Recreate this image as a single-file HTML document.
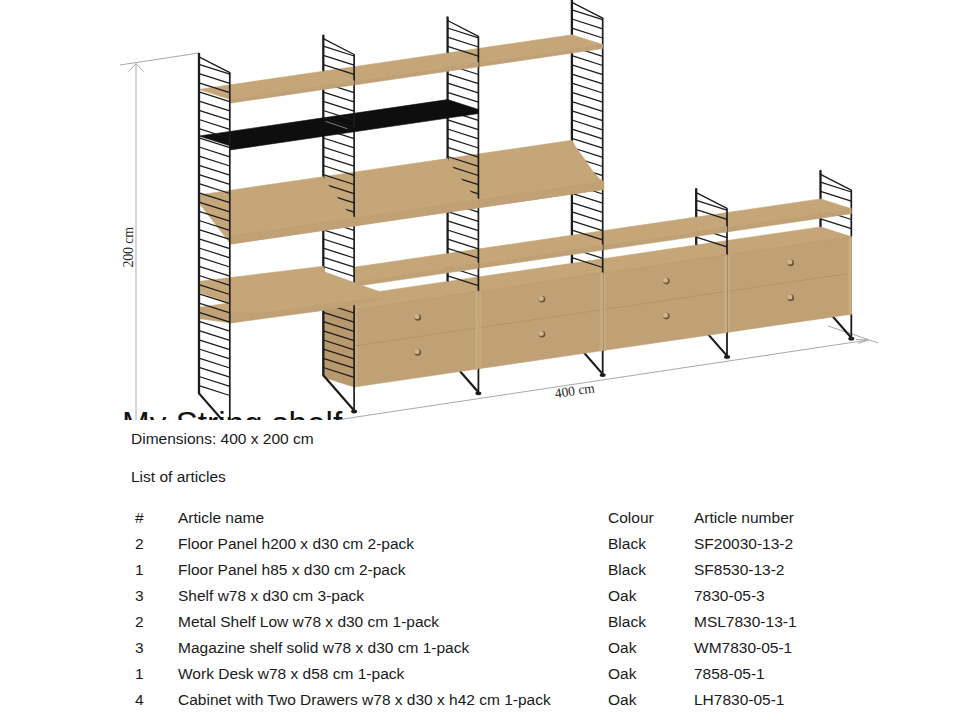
<!DOCTYPE html>
<html><head><meta charset="utf-8">
<style>
html,body{margin:0;padding:0;background:#fff;width:960px;height:720px;overflow:hidden;}
body{position:relative;font-family:"Liberation Sans",sans-serif;color:#1a1a1a;}
.t{position:absolute;font-size:15.5px;line-height:18px;white-space:nowrap;}
#title{position:absolute;left:122px;top:404px;font-size:33.3px;line-height:40px;color:#111;}
#cover{position:absolute;left:0;top:420px;width:960px;height:300px;background:#fff;}
svg{position:absolute;left:0;top:0;}
</style></head><body>
<svg width="960" height="421" viewBox="0 0 960 421">
<line x1="120.0" y1="65.0" x2="199.0" y2="53.0" stroke="#a9a9a9" stroke-width="1"/>
<line x1="136.0" y1="63.5" x2="136.0" y2="421.0" stroke="#a9a9a9" stroke-width="1"/>
<line x1="128.5" y1="71.5" x2="136.0" y2="63.5" stroke="#a9a9a9" stroke-width="1"/>
<line x1="136.0" y1="63.5" x2="143.5" y2="71.5" stroke="#a9a9a9" stroke-width="1"/>
<line x1="250.0" y1="433.0" x2="868.2" y2="340.0" stroke="#a9a9a9" stroke-width="1"/>
<line x1="828.0" y1="326.0" x2="878.0" y2="342.8" stroke="#a9a9a9" stroke-width="1"/>
<line x1="856.0" y1="339.5" x2="868.2" y2="340.0" stroke="#a9a9a9" stroke-width="1"/>
<line x1="858.0" y1="343.5" x2="868.2" y2="340.0" stroke="#a9a9a9" stroke-width="1"/>
<text x="0" y="0" transform="translate(133.4,267.5) rotate(-90)" font-family="Liberation Serif" font-size="14" letter-spacing="-0.2" fill="#2a2a2a">200 cm</text>
<text x="0" y="0" transform="translate(555.5,398) rotate(-8.3)" font-family="Liberation Serif" font-size="13.5" fill="#2a2a2a">400 cm</text>
<line x1="820.5" y1="171.0" x2="820.5" y2="302.4" stroke="#1c1c1c" stroke-width="2.3" stroke-linecap="round"/>
<line x1="851.3" y1="190.2" x2="851.3" y2="236.7" stroke="#1c1c1c" stroke-width="1.7"/>
<line x1="851.3" y1="236.7" x2="851.3" y2="313.7" stroke="#4a4036" stroke-width="0.9"/>
<line x1="851.3" y1="313.7" x2="851.3" y2="338.7" stroke="#1c1c1c" stroke-width="1.8"/>
<line x1="820.5" y1="174.4" x2="851.3" y2="190.2" stroke="#1c1c1c" stroke-width="1.3" stroke-linecap="round"/>
<line x1="820.5" y1="182.2" x2="851.3" y2="192.0" stroke="#1c1c1c" stroke-width="1.25"/>
<line x1="820.5" y1="191.4" x2="851.3" y2="201.2" stroke="#1c1c1c" stroke-width="1.25"/>
<line x1="820.5" y1="200.6" x2="851.3" y2="210.4" stroke="#1c1c1c" stroke-width="1.25"/>
<line x1="820.5" y1="209.7" x2="851.3" y2="219.5" stroke="#1c1c1c" stroke-width="1.25"/>
<line x1="820.5" y1="218.9" x2="851.3" y2="228.7" stroke="#1c1c1c" stroke-width="1.25"/>
<line x1="820.5" y1="228.1" x2="851.3" y2="237.9" stroke="#1c1c1c" stroke-width="1.25"/>
<line x1="820.5" y1="237.3" x2="851.3" y2="247.1" stroke="#1c1c1c" stroke-width="1.25"/>
<line x1="820.5" y1="246.5" x2="851.3" y2="256.3" stroke="#1c1c1c" stroke-width="1.25"/>
<line x1="820.5" y1="255.6" x2="851.3" y2="265.4" stroke="#1c1c1c" stroke-width="1.25"/>
<line x1="820.5" y1="264.8" x2="851.3" y2="274.6" stroke="#1c1c1c" stroke-width="1.25"/>
<line x1="820.5" y1="274.0" x2="851.3" y2="283.8" stroke="#1c1c1c" stroke-width="1.25"/>
<line x1="820.5" y1="283.2" x2="851.3" y2="293.0" stroke="#1c1c1c" stroke-width="1.25"/>
<line x1="820.5" y1="292.4" x2="851.3" y2="302.2" stroke="#1c1c1c" stroke-width="1.25"/>
<line x1="820.5" y1="302.4" x2="851.3" y2="337.7" stroke="#1c1c1c" stroke-width="2.2"/>
<ellipse cx="851.3" cy="338.7" rx="3.0" ry="1.9" fill="#1c1c1c"/>
<polygon points="696.2,322.6 727.0,332.4 727.0,254.9 696.2,245.1" fill="#b7996d" stroke="#b7996d" stroke-width="0.6" stroke-linejoin="round"/>
<polygon points="696.2,245.1 820.5,226.9 851.3,236.7 727.0,254.9" fill="#c4a679" stroke="#c4a679" stroke-width="0.6" stroke-linejoin="round"/>
<polygon points="727.0,332.4 851.3,314.2 851.3,236.7 727.0,254.9" fill="#bfa175" stroke="#bfa175" stroke-width="0.6" stroke-linejoin="round"/>
<polygon points="727.0,332.4 729.5,332.0 729.5,254.5 727.0,254.9" fill="#c8ac81" stroke="#c8ac81" stroke-width="0.6" stroke-linejoin="round"/>
<polygon points="848.8,314.6 851.3,314.2 851.3,236.7 848.8,237.1" fill="#c8ac81" stroke="#c8ac81" stroke-width="0.6" stroke-linejoin="round"/>
<line x1="727.3" y1="332.4" x2="727.3" y2="254.9" stroke="#9c8160" stroke-width="0.6" stroke-opacity="0.8"/>
<line x1="729.3" y1="291.1" x2="849.0" y2="273.5" stroke="#a88a60" stroke-width="0.8" stroke-opacity="0.7"/>
<line x1="727.0" y1="254.9" x2="851.3" y2="236.7" stroke="#b39670" stroke-width="0.6" stroke-opacity="0.6"/>
<circle cx="790.7" cy="262.9" r="3.3" fill="#6f5637"/>
<circle cx="789.8" cy="262.0" r="2.5" fill="#cfb58e"/>
<circle cx="790.7" cy="297.9" r="3.3" fill="#6f5637"/>
<circle cx="789.8" cy="297.0" r="2.5" fill="#cfb58e"/>
<polygon points="696.2,217.1 820.5,198.9 851.3,208.7 727.0,226.9" fill="#c4a679" stroke="#c4a679" stroke-width="0.6" stroke-linejoin="round"/>
<polygon points="727.0,226.9 851.3,208.7 851.3,213.7 727.0,231.9" fill="#bfa175" stroke="#bfa175" stroke-width="0.6" stroke-linejoin="round"/>
<line x1="696.2" y1="189.2" x2="696.2" y2="320.6" stroke="#1c1c1c" stroke-width="2.3" stroke-linecap="round"/>
<line x1="727.0" y1="208.4" x2="727.0" y2="254.9" stroke="#1c1c1c" stroke-width="1.7"/>
<line x1="727.0" y1="254.9" x2="727.0" y2="331.9" stroke="#4a4036" stroke-width="0.9"/>
<line x1="727.0" y1="331.9" x2="727.0" y2="356.9" stroke="#1c1c1c" stroke-width="1.8"/>
<line x1="696.2" y1="192.6" x2="727.0" y2="208.4" stroke="#1c1c1c" stroke-width="1.3" stroke-linecap="round"/>
<line x1="696.2" y1="200.4" x2="727.0" y2="210.2" stroke="#1c1c1c" stroke-width="1.25"/>
<line x1="696.2" y1="209.6" x2="727.0" y2="219.4" stroke="#1c1c1c" stroke-width="1.25"/>
<line x1="696.2" y1="218.8" x2="727.0" y2="228.6" stroke="#1c1c1c" stroke-width="1.25"/>
<line x1="696.2" y1="227.9" x2="727.0" y2="237.7" stroke="#1c1c1c" stroke-width="1.25"/>
<line x1="696.2" y1="237.1" x2="727.0" y2="246.9" stroke="#1c1c1c" stroke-width="1.25"/>
<line x1="696.2" y1="246.3" x2="727.0" y2="256.1" stroke="#1c1c1c" stroke-width="1.25"/>
<line x1="696.2" y1="255.5" x2="727.0" y2="265.3" stroke="#1c1c1c" stroke-width="1.25"/>
<line x1="696.2" y1="264.7" x2="727.0" y2="274.5" stroke="#1c1c1c" stroke-width="1.25"/>
<line x1="696.2" y1="273.8" x2="727.0" y2="283.6" stroke="#1c1c1c" stroke-width="1.25"/>
<line x1="696.2" y1="283.0" x2="727.0" y2="292.8" stroke="#1c1c1c" stroke-width="1.25"/>
<line x1="696.2" y1="292.2" x2="727.0" y2="302.0" stroke="#1c1c1c" stroke-width="1.25"/>
<line x1="696.2" y1="301.4" x2="727.0" y2="311.2" stroke="#1c1c1c" stroke-width="1.25"/>
<line x1="696.2" y1="310.6" x2="727.0" y2="320.4" stroke="#1c1c1c" stroke-width="1.25"/>
<line x1="696.2" y1="320.6" x2="727.0" y2="355.9" stroke="#1c1c1c" stroke-width="2.2"/>
<ellipse cx="727.0" cy="356.9" rx="3.0" ry="1.9" fill="#1c1c1c"/>
<polygon points="571.9,340.8 602.7,350.6 602.7,273.1 571.9,263.3" fill="#b7996d" stroke="#b7996d" stroke-width="0.6" stroke-linejoin="round"/>
<polygon points="571.9,263.3 696.2,245.1 727.0,254.9 602.7,273.1" fill="#c4a679" stroke="#c4a679" stroke-width="0.6" stroke-linejoin="round"/>
<polygon points="602.7,350.6 727.0,332.4 727.0,254.9 602.7,273.1" fill="#bfa175" stroke="#bfa175" stroke-width="0.6" stroke-linejoin="round"/>
<polygon points="602.7,350.6 605.2,350.2 605.2,272.7 602.7,273.1" fill="#c8ac81" stroke="#c8ac81" stroke-width="0.6" stroke-linejoin="round"/>
<polygon points="724.5,332.8 727.0,332.4 727.0,254.9 724.5,255.3" fill="#c8ac81" stroke="#c8ac81" stroke-width="0.6" stroke-linejoin="round"/>
<line x1="603.0" y1="350.6" x2="603.0" y2="273.1" stroke="#9c8160" stroke-width="0.6" stroke-opacity="0.8"/>
<line x1="605.0" y1="309.3" x2="724.7" y2="291.7" stroke="#a88a60" stroke-width="0.8" stroke-opacity="0.7"/>
<line x1="602.7" y1="273.1" x2="727.0" y2="254.9" stroke="#b39670" stroke-width="0.6" stroke-opacity="0.6"/>
<circle cx="666.4" cy="281.1" r="3.3" fill="#6f5637"/>
<circle cx="665.5" cy="280.2" r="2.5" fill="#cfb58e"/>
<circle cx="666.4" cy="316.1" r="3.3" fill="#6f5637"/>
<circle cx="665.5" cy="315.2" r="2.5" fill="#cfb58e"/>
<polygon points="571.9,235.3 696.2,217.1 727.0,226.9 602.7,245.1" fill="#c4a679" stroke="#c4a679" stroke-width="0.6" stroke-linejoin="round"/>
<polygon points="602.7,245.1 727.0,226.9 727.0,231.9 602.7,250.1" fill="#bfa175" stroke="#bfa175" stroke-width="0.6" stroke-linejoin="round"/>
<line x1="571.9" y1="-0.7" x2="571.9" y2="338.8" stroke="#1c1c1c" stroke-width="2.3" stroke-linecap="round"/>
<line x1="602.7" y1="18.1" x2="602.7" y2="273.1" stroke="#1c1c1c" stroke-width="1.7"/>
<line x1="602.7" y1="273.1" x2="602.7" y2="350.1" stroke="#4a4036" stroke-width="0.9"/>
<line x1="602.7" y1="350.1" x2="602.7" y2="375.1" stroke="#1c1c1c" stroke-width="1.8"/>
<line x1="571.9" y1="2.3" x2="602.7" y2="18.1" stroke="#1c1c1c" stroke-width="1.3" stroke-linecap="round"/>
<line x1="571.9" y1="9.8" x2="602.7" y2="19.6" stroke="#1c1c1c" stroke-width="1.25"/>
<line x1="571.9" y1="19.0" x2="602.7" y2="28.8" stroke="#1c1c1c" stroke-width="1.25"/>
<line x1="571.9" y1="28.2" x2="602.7" y2="38.0" stroke="#1c1c1c" stroke-width="1.25"/>
<line x1="571.9" y1="37.3" x2="602.7" y2="47.1" stroke="#1c1c1c" stroke-width="1.25"/>
<line x1="571.9" y1="46.5" x2="602.7" y2="56.3" stroke="#1c1c1c" stroke-width="1.25"/>
<line x1="571.9" y1="55.7" x2="602.7" y2="65.5" stroke="#1c1c1c" stroke-width="1.25"/>
<line x1="571.9" y1="64.9" x2="602.7" y2="74.7" stroke="#1c1c1c" stroke-width="1.25"/>
<line x1="571.9" y1="74.1" x2="602.7" y2="83.9" stroke="#1c1c1c" stroke-width="1.25"/>
<line x1="571.9" y1="83.2" x2="602.7" y2="93.0" stroke="#1c1c1c" stroke-width="1.25"/>
<line x1="571.9" y1="92.4" x2="602.7" y2="102.2" stroke="#1c1c1c" stroke-width="1.25"/>
<line x1="571.9" y1="101.6" x2="602.7" y2="111.4" stroke="#1c1c1c" stroke-width="1.25"/>
<line x1="571.9" y1="110.8" x2="602.7" y2="120.6" stroke="#1c1c1c" stroke-width="1.25"/>
<line x1="571.9" y1="120.0" x2="602.7" y2="129.8" stroke="#1c1c1c" stroke-width="1.25"/>
<line x1="571.9" y1="129.1" x2="602.7" y2="138.9" stroke="#1c1c1c" stroke-width="1.25"/>
<line x1="571.9" y1="138.3" x2="602.7" y2="148.1" stroke="#1c1c1c" stroke-width="1.25"/>
<line x1="571.9" y1="147.5" x2="602.7" y2="157.3" stroke="#1c1c1c" stroke-width="1.25"/>
<line x1="571.9" y1="156.7" x2="602.7" y2="166.5" stroke="#1c1c1c" stroke-width="1.25"/>
<line x1="571.9" y1="165.9" x2="602.7" y2="175.7" stroke="#1c1c1c" stroke-width="1.25"/>
<line x1="571.9" y1="175.0" x2="602.7" y2="184.8" stroke="#1c1c1c" stroke-width="1.25"/>
<line x1="571.9" y1="184.2" x2="602.7" y2="194.0" stroke="#1c1c1c" stroke-width="1.25"/>
<line x1="571.9" y1="193.4" x2="602.7" y2="203.2" stroke="#1c1c1c" stroke-width="1.25"/>
<line x1="571.9" y1="202.6" x2="602.7" y2="212.4" stroke="#1c1c1c" stroke-width="1.25"/>
<line x1="571.9" y1="211.8" x2="602.7" y2="221.6" stroke="#1c1c1c" stroke-width="1.25"/>
<line x1="571.9" y1="220.9" x2="602.7" y2="230.7" stroke="#1c1c1c" stroke-width="1.25"/>
<line x1="571.9" y1="230.1" x2="602.7" y2="239.9" stroke="#1c1c1c" stroke-width="1.25"/>
<line x1="571.9" y1="239.3" x2="602.7" y2="249.1" stroke="#1c1c1c" stroke-width="1.25"/>
<line x1="571.9" y1="248.5" x2="602.7" y2="258.3" stroke="#1c1c1c" stroke-width="1.25"/>
<line x1="571.9" y1="257.7" x2="602.7" y2="267.5" stroke="#1c1c1c" stroke-width="1.25"/>
<line x1="571.9" y1="266.8" x2="602.7" y2="276.6" stroke="#1c1c1c" stroke-width="1.25"/>
<line x1="571.9" y1="276.0" x2="602.7" y2="285.8" stroke="#1c1c1c" stroke-width="1.25"/>
<line x1="571.9" y1="285.2" x2="602.7" y2="295.0" stroke="#1c1c1c" stroke-width="1.25"/>
<line x1="571.9" y1="294.4" x2="602.7" y2="304.2" stroke="#1c1c1c" stroke-width="1.25"/>
<line x1="571.9" y1="303.6" x2="602.7" y2="313.4" stroke="#1c1c1c" stroke-width="1.25"/>
<line x1="571.9" y1="312.7" x2="602.7" y2="322.5" stroke="#1c1c1c" stroke-width="1.25"/>
<line x1="571.9" y1="321.9" x2="602.7" y2="331.7" stroke="#1c1c1c" stroke-width="1.25"/>
<line x1="571.9" y1="331.1" x2="602.7" y2="340.9" stroke="#1c1c1c" stroke-width="1.25"/>
<line x1="571.9" y1="338.8" x2="602.7" y2="374.1" stroke="#1c1c1c" stroke-width="2.2"/>
<ellipse cx="602.7" cy="375.1" rx="3.0" ry="1.9" fill="#1c1c1c"/>
<polygon points="447.6,359.0 478.4,368.8 478.4,291.3 447.6,281.5" fill="#b7996d" stroke="#b7996d" stroke-width="0.6" stroke-linejoin="round"/>
<polygon points="447.6,281.5 571.9,263.3 602.7,273.1 478.4,291.3" fill="#c4a679" stroke="#c4a679" stroke-width="0.6" stroke-linejoin="round"/>
<polygon points="478.4,368.8 602.7,350.6 602.7,273.1 478.4,291.3" fill="#bfa175" stroke="#bfa175" stroke-width="0.6" stroke-linejoin="round"/>
<polygon points="478.4,368.8 480.9,368.4 480.9,290.9 478.4,291.3" fill="#c8ac81" stroke="#c8ac81" stroke-width="0.6" stroke-linejoin="round"/>
<polygon points="600.2,351.0 602.7,350.6 602.7,273.1 600.2,273.5" fill="#c8ac81" stroke="#c8ac81" stroke-width="0.6" stroke-linejoin="round"/>
<line x1="478.7" y1="368.8" x2="478.7" y2="291.3" stroke="#9c8160" stroke-width="0.6" stroke-opacity="0.8"/>
<line x1="480.7" y1="327.5" x2="600.4" y2="309.9" stroke="#a88a60" stroke-width="0.8" stroke-opacity="0.7"/>
<line x1="478.4" y1="291.3" x2="602.7" y2="273.1" stroke="#b39670" stroke-width="0.6" stroke-opacity="0.6"/>
<circle cx="542.1" cy="299.3" r="3.3" fill="#6f5637"/>
<circle cx="541.2" cy="298.4" r="2.5" fill="#cfb58e"/>
<circle cx="542.1" cy="334.3" r="3.3" fill="#6f5637"/>
<circle cx="541.2" cy="333.4" r="2.5" fill="#cfb58e"/>
<polygon points="447.6,253.5 571.9,235.3 602.7,245.1 478.4,263.3" fill="#c4a679" stroke="#c4a679" stroke-width="0.6" stroke-linejoin="round"/>
<polygon points="478.4,263.3 602.7,245.1 602.7,250.1 478.4,268.3" fill="#bfa175" stroke="#bfa175" stroke-width="0.6" stroke-linejoin="round"/>
<polygon points="447.6,158.5 571.9,140.3 576.0,147.6 584.2,158.7 592.4,170.8 599.6,179.1 603.7,181.4 603.7,189.4 479.4,207.6" fill="#c4a679" stroke="#c4a679" stroke-width="0.6" stroke-linejoin="round"/>
<polygon points="479.4,207.6 479.4,199.6 475.3,197.3 468.1,189.0 459.9,176.9 451.7,165.8 447.6,158.5 447.6,158.5" fill="#c4a679" stroke="#c4a679" stroke-width="0.6" stroke-linejoin="round"/>
<polygon points="479.4,199.6 603.7,181.4 603.7,189.4 479.4,207.6" fill="#bfa175" stroke="#bfa175" stroke-width="0.6" stroke-linejoin="round"/>
<polygon points="447.6,53.0 571.9,34.8 602.7,44.6 478.4,62.8" fill="#c4a679" stroke="#c4a679" stroke-width="0.6" stroke-linejoin="round"/>
<polygon points="478.4,62.8 602.7,44.6 602.7,48.6 478.4,66.8" fill="#bfa175" stroke="#bfa175" stroke-width="0.6" stroke-linejoin="round"/>
<line x1="447.6" y1="17.5" x2="447.6" y2="357.0" stroke="#1c1c1c" stroke-width="2.3" stroke-linecap="round"/>
<line x1="478.4" y1="36.3" x2="478.4" y2="291.3" stroke="#1c1c1c" stroke-width="1.7"/>
<line x1="478.4" y1="291.3" x2="478.4" y2="368.3" stroke="#4a4036" stroke-width="0.9"/>
<line x1="478.4" y1="368.3" x2="478.4" y2="393.3" stroke="#1c1c1c" stroke-width="1.8"/>
<line x1="447.6" y1="20.5" x2="478.4" y2="36.3" stroke="#1c1c1c" stroke-width="1.3" stroke-linecap="round"/>
<line x1="447.6" y1="28.0" x2="478.4" y2="37.8" stroke="#1c1c1c" stroke-width="1.25"/>
<line x1="447.6" y1="37.2" x2="478.4" y2="47.0" stroke="#1c1c1c" stroke-width="1.25"/>
<line x1="447.6" y1="46.4" x2="478.4" y2="56.2" stroke="#1c1c1c" stroke-width="1.25"/>
<line x1="447.6" y1="55.5" x2="478.4" y2="65.3" stroke="#1c1c1c" stroke-width="1.25"/>
<line x1="447.6" y1="64.7" x2="478.4" y2="74.5" stroke="#1c1c1c" stroke-width="1.25"/>
<line x1="447.6" y1="73.9" x2="478.4" y2="83.7" stroke="#1c1c1c" stroke-width="1.25"/>
<line x1="447.6" y1="83.1" x2="478.4" y2="92.9" stroke="#1c1c1c" stroke-width="1.25"/>
<line x1="447.6" y1="92.3" x2="478.4" y2="102.1" stroke="#1c1c1c" stroke-width="1.25"/>
<line x1="447.6" y1="101.4" x2="478.4" y2="111.2" stroke="#1c1c1c" stroke-width="1.25"/>
<line x1="447.6" y1="110.6" x2="478.4" y2="120.4" stroke="#1c1c1c" stroke-width="1.25"/>
<line x1="447.6" y1="119.8" x2="478.4" y2="129.6" stroke="#1c1c1c" stroke-width="1.25"/>
<line x1="447.6" y1="129.0" x2="478.4" y2="138.8" stroke="#1c1c1c" stroke-width="1.25"/>
<line x1="447.6" y1="138.2" x2="478.4" y2="148.0" stroke="#1c1c1c" stroke-width="1.25"/>
<line x1="447.6" y1="147.3" x2="478.4" y2="157.1" stroke="#1c1c1c" stroke-width="1.25"/>
<line x1="447.6" y1="156.5" x2="478.4" y2="166.3" stroke="#1c1c1c" stroke-width="1.25"/>
<line x1="447.6" y1="165.7" x2="478.4" y2="175.5" stroke="#1c1c1c" stroke-width="1.25"/>
<line x1="447.6" y1="174.9" x2="478.4" y2="184.7" stroke="#1c1c1c" stroke-width="1.25"/>
<line x1="447.6" y1="184.1" x2="478.4" y2="193.9" stroke="#1c1c1c" stroke-width="1.25"/>
<line x1="447.6" y1="193.2" x2="478.4" y2="203.0" stroke="#1c1c1c" stroke-width="1.25"/>
<line x1="447.6" y1="202.4" x2="478.4" y2="212.2" stroke="#1c1c1c" stroke-width="1.25"/>
<line x1="447.6" y1="211.6" x2="478.4" y2="221.4" stroke="#1c1c1c" stroke-width="1.25"/>
<line x1="447.6" y1="220.8" x2="478.4" y2="230.6" stroke="#1c1c1c" stroke-width="1.25"/>
<line x1="447.6" y1="230.0" x2="478.4" y2="239.8" stroke="#1c1c1c" stroke-width="1.25"/>
<line x1="447.6" y1="239.1" x2="478.4" y2="248.9" stroke="#1c1c1c" stroke-width="1.25"/>
<line x1="447.6" y1="248.3" x2="478.4" y2="258.1" stroke="#1c1c1c" stroke-width="1.25"/>
<line x1="447.6" y1="257.5" x2="478.4" y2="267.3" stroke="#1c1c1c" stroke-width="1.25"/>
<line x1="447.6" y1="266.7" x2="478.4" y2="276.5" stroke="#1c1c1c" stroke-width="1.25"/>
<line x1="447.6" y1="275.9" x2="478.4" y2="285.7" stroke="#1c1c1c" stroke-width="1.25"/>
<line x1="447.6" y1="285.0" x2="478.4" y2="294.8" stroke="#1c1c1c" stroke-width="1.25"/>
<line x1="447.6" y1="294.2" x2="478.4" y2="304.0" stroke="#1c1c1c" stroke-width="1.25"/>
<line x1="447.6" y1="303.4" x2="478.4" y2="313.2" stroke="#1c1c1c" stroke-width="1.25"/>
<line x1="447.6" y1="312.6" x2="478.4" y2="322.4" stroke="#1c1c1c" stroke-width="1.25"/>
<line x1="447.6" y1="321.8" x2="478.4" y2="331.6" stroke="#1c1c1c" stroke-width="1.25"/>
<line x1="447.6" y1="330.9" x2="478.4" y2="340.7" stroke="#1c1c1c" stroke-width="1.25"/>
<line x1="447.6" y1="340.1" x2="478.4" y2="349.9" stroke="#1c1c1c" stroke-width="1.25"/>
<line x1="447.6" y1="349.3" x2="478.4" y2="359.1" stroke="#1c1c1c" stroke-width="1.25"/>
<line x1="447.6" y1="357.0" x2="478.4" y2="392.3" stroke="#1c1c1c" stroke-width="2.2"/>
<ellipse cx="478.4" cy="393.3" rx="3.0" ry="1.9" fill="#1c1c1c"/>
<polygon points="323.3,377.2 354.1,387.0 354.1,309.5 323.3,299.7" fill="#b7996d" stroke="#b7996d" stroke-width="0.6" stroke-linejoin="round"/>
<polygon points="323.3,299.7 447.6,281.5 478.4,291.3 354.1,309.5" fill="#c4a679" stroke="#c4a679" stroke-width="0.6" stroke-linejoin="round"/>
<polygon points="354.1,387.0 478.4,368.8 478.4,291.3 354.1,309.5" fill="#bfa175" stroke="#bfa175" stroke-width="0.6" stroke-linejoin="round"/>
<polygon points="354.1,387.0 356.6,386.6 356.6,309.1 354.1,309.5" fill="#c8ac81" stroke="#c8ac81" stroke-width="0.6" stroke-linejoin="round"/>
<polygon points="475.9,369.2 478.4,368.8 478.4,291.3 475.9,291.7" fill="#c8ac81" stroke="#c8ac81" stroke-width="0.6" stroke-linejoin="round"/>
<line x1="354.4" y1="387.0" x2="354.4" y2="309.5" stroke="#9c8160" stroke-width="0.6" stroke-opacity="0.8"/>
<line x1="356.4" y1="345.7" x2="476.1" y2="328.1" stroke="#a88a60" stroke-width="0.8" stroke-opacity="0.7"/>
<line x1="354.1" y1="309.5" x2="478.4" y2="291.3" stroke="#b39670" stroke-width="0.6" stroke-opacity="0.6"/>
<circle cx="417.8" cy="317.5" r="3.3" fill="#6f5637"/>
<circle cx="416.9" cy="316.6" r="2.5" fill="#cfb58e"/>
<circle cx="417.8" cy="352.5" r="3.3" fill="#6f5637"/>
<circle cx="416.9" cy="351.6" r="2.5" fill="#cfb58e"/>
<polygon points="323.3,271.7 447.6,253.5 478.4,263.3 354.1,281.5" fill="#c4a679" stroke="#c4a679" stroke-width="0.6" stroke-linejoin="round"/>
<polygon points="354.1,281.5 478.4,263.3 478.4,268.3 354.1,286.5" fill="#bfa175" stroke="#bfa175" stroke-width="0.6" stroke-linejoin="round"/>
<polygon points="323.3,176.7 447.6,158.5 451.7,165.8 459.9,176.9 468.1,189.0 475.3,197.3 479.4,199.6 479.4,207.6 355.1,225.8" fill="#c4a679" stroke="#c4a679" stroke-width="0.6" stroke-linejoin="round"/>
<polygon points="355.1,225.8 355.1,217.8 351.0,215.5 343.8,207.2 335.6,195.1 327.4,184.0 323.3,176.7 323.3,176.7" fill="#c4a679" stroke="#c4a679" stroke-width="0.6" stroke-linejoin="round"/>
<polygon points="355.1,217.8 479.4,199.6 479.4,207.6 355.1,225.8" fill="#bfa175" stroke="#bfa175" stroke-width="0.6" stroke-linejoin="round"/>
<polygon points="323.3,117.8 447.6,99.6 478.4,109.4 478.4,113.6 354.1,131.8 354.1,127.6" fill="#0e0e0e" stroke="#0e0e0e" stroke-width="0.6" stroke-linejoin="round"/>
<polygon points="323.3,71.2 447.6,53.0 478.4,62.8 354.1,81.0" fill="#c4a679" stroke="#c4a679" stroke-width="0.6" stroke-linejoin="round"/>
<polygon points="354.1,81.0 478.4,62.8 478.4,66.8 354.1,85.0" fill="#bfa175" stroke="#bfa175" stroke-width="0.6" stroke-linejoin="round"/>
<polygon points="324.3,262 354,262 354,282.5 324.3,272" fill="#fff"/>
<line x1="323.3" y1="35.7" x2="323.3" y2="375.2" stroke="#1c1c1c" stroke-width="2.3" stroke-linecap="round"/>
<line x1="354.1" y1="54.5" x2="354.1" y2="411.5" stroke="#1c1c1c" stroke-width="1.7"/>
<line x1="323.3" y1="38.7" x2="354.1" y2="54.5" stroke="#1c1c1c" stroke-width="1.3" stroke-linecap="round"/>
<line x1="323.3" y1="46.2" x2="354.1" y2="56.0" stroke="#1c1c1c" stroke-width="1.25"/>
<line x1="323.3" y1="55.4" x2="354.1" y2="65.2" stroke="#1c1c1c" stroke-width="1.25"/>
<line x1="323.3" y1="64.6" x2="354.1" y2="74.4" stroke="#1c1c1c" stroke-width="1.25"/>
<line x1="323.3" y1="73.7" x2="354.1" y2="83.5" stroke="#1c1c1c" stroke-width="1.25"/>
<line x1="323.3" y1="82.9" x2="354.1" y2="92.7" stroke="#1c1c1c" stroke-width="1.25"/>
<line x1="323.3" y1="92.1" x2="354.1" y2="101.9" stroke="#1c1c1c" stroke-width="1.25"/>
<line x1="323.3" y1="101.3" x2="354.1" y2="111.1" stroke="#1c1c1c" stroke-width="1.25"/>
<line x1="323.3" y1="110.5" x2="354.1" y2="120.3" stroke="#1c1c1c" stroke-width="1.25"/>
<line x1="323.3" y1="119.6" x2="354.1" y2="129.4" stroke="#1c1c1c" stroke-width="1.25"/>
<line x1="323.3" y1="128.8" x2="354.1" y2="138.6" stroke="#1c1c1c" stroke-width="1.25"/>
<line x1="323.3" y1="138.0" x2="354.1" y2="147.8" stroke="#1c1c1c" stroke-width="1.25"/>
<line x1="323.3" y1="147.2" x2="354.1" y2="157.0" stroke="#1c1c1c" stroke-width="1.25"/>
<line x1="323.3" y1="156.4" x2="354.1" y2="166.2" stroke="#1c1c1c" stroke-width="1.25"/>
<line x1="323.3" y1="165.5" x2="354.1" y2="175.3" stroke="#1c1c1c" stroke-width="1.25"/>
<line x1="323.3" y1="174.7" x2="354.1" y2="184.5" stroke="#1c1c1c" stroke-width="1.25"/>
<line x1="323.3" y1="183.9" x2="354.1" y2="193.7" stroke="#1c1c1c" stroke-width="1.25"/>
<line x1="323.3" y1="193.1" x2="354.1" y2="202.9" stroke="#1c1c1c" stroke-width="1.25"/>
<line x1="323.3" y1="202.3" x2="354.1" y2="212.1" stroke="#1c1c1c" stroke-width="1.25"/>
<line x1="323.3" y1="211.4" x2="354.1" y2="221.2" stroke="#1c1c1c" stroke-width="1.25"/>
<line x1="323.3" y1="220.6" x2="354.1" y2="230.4" stroke="#1c1c1c" stroke-width="1.25"/>
<line x1="323.3" y1="229.8" x2="354.1" y2="239.6" stroke="#1c1c1c" stroke-width="1.25"/>
<line x1="323.3" y1="239.0" x2="354.1" y2="248.8" stroke="#1c1c1c" stroke-width="1.25"/>
<line x1="323.3" y1="248.2" x2="354.1" y2="258.0" stroke="#1c1c1c" stroke-width="1.25"/>
<line x1="323.3" y1="257.3" x2="354.1" y2="267.1" stroke="#1c1c1c" stroke-width="1.25"/>
<line x1="323.3" y1="266.5" x2="354.1" y2="276.3" stroke="#1c1c1c" stroke-width="1.25"/>
<line x1="323.3" y1="275.7" x2="354.1" y2="285.5" stroke="#1c1c1c" stroke-width="1.25"/>
<line x1="323.3" y1="284.9" x2="354.1" y2="294.7" stroke="#1c1c1c" stroke-width="1.25"/>
<line x1="323.3" y1="294.1" x2="354.1" y2="303.9" stroke="#1c1c1c" stroke-width="1.25"/>
<line x1="323.3" y1="303.2" x2="354.1" y2="313.0" stroke="#1c1c1c" stroke-width="1.25"/>
<line x1="323.3" y1="312.4" x2="354.1" y2="322.2" stroke="#1c1c1c" stroke-width="1.25"/>
<line x1="323.3" y1="321.6" x2="354.1" y2="331.4" stroke="#1c1c1c" stroke-width="1.25"/>
<line x1="323.3" y1="330.8" x2="354.1" y2="340.6" stroke="#1c1c1c" stroke-width="1.25"/>
<line x1="323.3" y1="340.0" x2="354.1" y2="349.8" stroke="#1c1c1c" stroke-width="1.25"/>
<line x1="323.3" y1="349.1" x2="354.1" y2="358.9" stroke="#1c1c1c" stroke-width="1.25"/>
<line x1="323.3" y1="358.3" x2="354.1" y2="368.1" stroke="#1c1c1c" stroke-width="1.25"/>
<line x1="323.3" y1="367.5" x2="354.1" y2="377.3" stroke="#1c1c1c" stroke-width="1.25"/>
<line x1="323.3" y1="375.2" x2="354.1" y2="410.5" stroke="#1c1c1c" stroke-width="2.2"/>
<ellipse cx="354.1" cy="411.5" rx="3.0" ry="1.9" fill="#1c1c1c"/>
<polygon points="199.0,307.4 323.3,289.2 354.1,299.0 229.8,317.2" fill="#c4a679" stroke="#c4a679" stroke-width="0.6" stroke-linejoin="round"/>
<polygon points="229.8,317.2 354.1,299.0 354.1,303.0 229.8,321.2" fill="#bfa175" stroke="#bfa175" stroke-width="0.6" stroke-linejoin="round"/>
<polygon points="200.4,307.3 229.6,312.5 259.8,313.5 231.7,322.9 200.4,318.8" fill="#bfa175" stroke="#bfa175" stroke-width="0.6" stroke-linejoin="round"/>
<polygon points="200.4,281.2 323.3,266.2 324.8,272.1 354.0,282.5 360.7,285.1 383.1,292.9 383.1,297.1 323.3,304.6 259.8,313.5 229.6,303.1 200.4,292.7" fill="#c4a679" stroke="#c4a679" stroke-width="0.6" stroke-linejoin="round"/>
<polygon points="259.8,313.5 323.3,304.6 383.1,297.1 383.1,299.5 354.0,305.0 323.3,310.4 231.7,322.9" fill="#bfa175" stroke="#bfa175" stroke-width="0.6" stroke-linejoin="round"/>
<polygon points="199.0,194.9 323.3,176.7 327.4,184.0 335.6,195.1 343.8,207.2 351.0,215.5 355.1,217.8 355.1,225.8 230.8,244.0" fill="#c4a679" stroke="#c4a679" stroke-width="0.6" stroke-linejoin="round"/>
<polygon points="230.8,244.0 200.5,204.9 199.0,194.9 199.0,194.9" fill="#c4a679" stroke="#c4a679" stroke-width="0.6" stroke-linejoin="round"/>
<polygon points="230.8,236.0 355.1,217.8 355.1,225.8 230.8,244.0" fill="#bfa175" stroke="#bfa175" stroke-width="0.6" stroke-linejoin="round"/>
<polygon points="199.0,136.0 323.3,117.8 354.1,127.6 354.1,131.8 229.8,150.0 229.8,145.8" fill="#0e0e0e" stroke="#0e0e0e" stroke-width="0.6" stroke-linejoin="round"/>
<polygon points="199.0,89.4 323.3,71.2 354.1,81.0 229.8,99.2" fill="#c4a679" stroke="#c4a679" stroke-width="0.6" stroke-linejoin="round"/>
<polygon points="229.8,99.2 354.1,81.0 354.1,85.0 229.8,103.2" fill="#bfa175" stroke="#bfa175" stroke-width="0.6" stroke-linejoin="round"/>
<line x1="325.6" y1="121.3" x2="347.5" y2="128.8" stroke="#8a8a8a" stroke-width="0.9"/>
<line x1="199.0" y1="53.9" x2="199.0" y2="393.4" stroke="#1c1c1c" stroke-width="2.3" stroke-linecap="round"/>
<line x1="229.8" y1="72.7" x2="229.8" y2="429.7" stroke="#1c1c1c" stroke-width="1.7"/>
<line x1="199.0" y1="56.9" x2="229.8" y2="72.7" stroke="#1c1c1c" stroke-width="1.3" stroke-linecap="round"/>
<line x1="199.0" y1="64.4" x2="229.8" y2="74.2" stroke="#1c1c1c" stroke-width="1.25"/>
<line x1="199.0" y1="73.6" x2="229.8" y2="83.4" stroke="#1c1c1c" stroke-width="1.25"/>
<line x1="199.0" y1="82.8" x2="229.8" y2="92.6" stroke="#1c1c1c" stroke-width="1.25"/>
<line x1="199.0" y1="91.9" x2="229.8" y2="101.7" stroke="#1c1c1c" stroke-width="1.25"/>
<line x1="199.0" y1="101.1" x2="229.8" y2="110.9" stroke="#1c1c1c" stroke-width="1.25"/>
<line x1="199.0" y1="110.3" x2="229.8" y2="120.1" stroke="#1c1c1c" stroke-width="1.25"/>
<line x1="199.0" y1="119.5" x2="229.8" y2="129.3" stroke="#1c1c1c" stroke-width="1.25"/>
<line x1="199.0" y1="128.7" x2="229.8" y2="138.5" stroke="#1c1c1c" stroke-width="1.25"/>
<line x1="199.0" y1="137.8" x2="229.8" y2="147.6" stroke="#1c1c1c" stroke-width="1.25"/>
<line x1="199.0" y1="147.0" x2="229.8" y2="156.8" stroke="#1c1c1c" stroke-width="1.25"/>
<line x1="199.0" y1="156.2" x2="229.8" y2="166.0" stroke="#1c1c1c" stroke-width="1.25"/>
<line x1="199.0" y1="165.4" x2="229.8" y2="175.2" stroke="#1c1c1c" stroke-width="1.25"/>
<line x1="199.0" y1="174.6" x2="229.8" y2="184.4" stroke="#1c1c1c" stroke-width="1.25"/>
<line x1="199.0" y1="183.7" x2="229.8" y2="193.5" stroke="#1c1c1c" stroke-width="1.25"/>
<line x1="199.0" y1="192.9" x2="229.8" y2="202.7" stroke="#1c1c1c" stroke-width="1.25"/>
<line x1="199.0" y1="202.1" x2="229.8" y2="211.9" stroke="#1c1c1c" stroke-width="1.25"/>
<line x1="199.0" y1="211.3" x2="229.8" y2="221.1" stroke="#1c1c1c" stroke-width="1.25"/>
<line x1="199.0" y1="220.5" x2="229.8" y2="230.3" stroke="#1c1c1c" stroke-width="1.25"/>
<line x1="199.0" y1="229.6" x2="229.8" y2="239.4" stroke="#1c1c1c" stroke-width="1.25"/>
<line x1="199.0" y1="238.8" x2="229.8" y2="248.6" stroke="#1c1c1c" stroke-width="1.25"/>
<line x1="199.0" y1="248.0" x2="229.8" y2="257.8" stroke="#1c1c1c" stroke-width="1.25"/>
<line x1="199.0" y1="257.2" x2="229.8" y2="267.0" stroke="#1c1c1c" stroke-width="1.25"/>
<line x1="199.0" y1="266.4" x2="229.8" y2="276.2" stroke="#1c1c1c" stroke-width="1.25"/>
<line x1="199.0" y1="275.5" x2="229.8" y2="285.3" stroke="#1c1c1c" stroke-width="1.25"/>
<line x1="199.0" y1="284.7" x2="229.8" y2="294.5" stroke="#1c1c1c" stroke-width="1.25"/>
<line x1="199.0" y1="293.9" x2="229.8" y2="303.7" stroke="#1c1c1c" stroke-width="1.25"/>
<line x1="199.0" y1="303.1" x2="229.8" y2="312.9" stroke="#1c1c1c" stroke-width="1.25"/>
<line x1="199.0" y1="312.3" x2="229.8" y2="322.1" stroke="#1c1c1c" stroke-width="1.25"/>
<line x1="199.0" y1="321.4" x2="229.8" y2="331.2" stroke="#1c1c1c" stroke-width="1.25"/>
<line x1="199.0" y1="330.6" x2="229.8" y2="340.4" stroke="#1c1c1c" stroke-width="1.25"/>
<line x1="199.0" y1="339.8" x2="229.8" y2="349.6" stroke="#1c1c1c" stroke-width="1.25"/>
<line x1="199.0" y1="349.0" x2="229.8" y2="358.8" stroke="#1c1c1c" stroke-width="1.25"/>
<line x1="199.0" y1="358.2" x2="229.8" y2="368.0" stroke="#1c1c1c" stroke-width="1.25"/>
<line x1="199.0" y1="367.3" x2="229.8" y2="377.1" stroke="#1c1c1c" stroke-width="1.25"/>
<line x1="199.0" y1="376.5" x2="229.8" y2="386.3" stroke="#1c1c1c" stroke-width="1.25"/>
<line x1="199.0" y1="385.7" x2="229.8" y2="395.5" stroke="#1c1c1c" stroke-width="1.25"/>
<line x1="199.0" y1="393.4" x2="229.8" y2="428.7" stroke="#1c1c1c" stroke-width="2.2"/>
<ellipse cx="229.8" cy="429.7" rx="3.0" ry="1.9" fill="#1c1c1c"/>
</svg>
<div id="title">My String shelf</div>
<div id="cover"></div>
<div class="t" style="left:131px;top:430px">Dimensions: 400 x 200 cm</div>
<div class="t" style="left:131px;top:467.6px">List of articles</div>
<div class="t" style="left:135px;top:508.60px">#</div>
<div class="t" style="left:178px;top:508.60px">Article name</div>
<div class="t" style="left:608px;top:508.60px">Colour</div>
<div class="t" style="left:694px;top:508.60px">Article number</div>
<div class="t" style="left:135px;top:534.67px">2</div>
<div class="t" style="left:178px;top:534.67px">Floor Panel h200 x d30 cm 2-pack</div>
<div class="t" style="left:608px;top:534.67px">Black</div>
<div class="t" style="left:694px;top:534.67px">SF20030-13-2</div>
<div class="t" style="left:135px;top:560.74px">1</div>
<div class="t" style="left:178px;top:560.74px">Floor Panel h85 x d30 cm 2-pack</div>
<div class="t" style="left:608px;top:560.74px">Black</div>
<div class="t" style="left:694px;top:560.74px">SF8530-13-2</div>
<div class="t" style="left:135px;top:586.81px">3</div>
<div class="t" style="left:178px;top:586.81px">Shelf w78 x d30 cm 3-pack</div>
<div class="t" style="left:608px;top:586.81px">Oak</div>
<div class="t" style="left:694px;top:586.81px">7830-05-3</div>
<div class="t" style="left:135px;top:612.88px">2</div>
<div class="t" style="left:178px;top:612.88px">Metal Shelf Low w78 x d30 cm 1-pack</div>
<div class="t" style="left:608px;top:612.88px">Black</div>
<div class="t" style="left:694px;top:612.88px">MSL7830-13-1</div>
<div class="t" style="left:135px;top:638.95px">3</div>
<div class="t" style="left:178px;top:638.95px">Magazine shelf solid w78 x d30 cm 1-pack</div>
<div class="t" style="left:608px;top:638.95px">Oak</div>
<div class="t" style="left:694px;top:638.95px">WM7830-05-1</div>
<div class="t" style="left:135px;top:665.02px">1</div>
<div class="t" style="left:178px;top:665.02px">Work Desk w78 x d58 cm 1-pack</div>
<div class="t" style="left:608px;top:665.02px">Oak</div>
<div class="t" style="left:694px;top:665.02px">7858-05-1</div>
<div class="t" style="left:135px;top:691.09px">4</div>
<div class="t" style="left:178px;top:691.09px">Cabinet with Two Drawers w78 x d30 x h42 cm 1-pack</div>
<div class="t" style="left:608px;top:691.09px">Oak</div>
<div class="t" style="left:694px;top:691.09px">LH7830-05-1</div>
</body></html>
